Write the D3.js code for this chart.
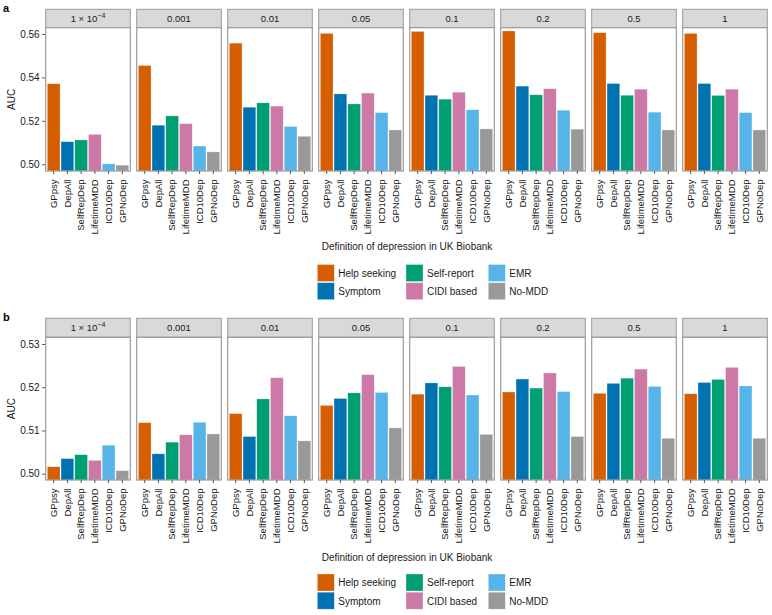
<!DOCTYPE html>
<html><head><meta charset="utf-8">
<script src="https://cdn.jsdelivr.net/npm/d3@7"></script>
<style>body{margin:0;background:#fff;} text{font-family:"Liberation Sans",Arial,Helvetica,sans-serif;}</style>
</head><body>
<svg id="chart" width="772" height="615"></svg>
<script>
// ---------- data ----------
const thresholds = ["1e-4","0.001","0.01","0.05","0.1","0.2","0.5","1"];
const definitions = ["GPpsy","DepAll","SelfRepDep","LifetimeMDD","ICD10Dep","GPNoDep"];
const groups = ["Help seeking","Symptom","Self-report","CIDI based","EMR","No-MDD"];
const groupColors = ["#D55E00","#0072B2","#009E73","#CC79A7","#56B4E9","#999999"];

// panel a: AUC per threshold (rows) x definition (cols)
const aucA = [
  [0.5371,0.5104,0.5112,0.5138,0.5002,0.4996],
  [0.5455,0.5180,0.5223,0.5187,0.5084,0.5057],
  [0.5558,0.5263,0.5283,0.5268,0.5174,0.5129],
  [0.5603,0.5324,0.5278,0.5328,0.5238,0.5158],
  [0.5612,0.5318,0.5300,0.5332,0.5251,0.5163],
  [0.5614,0.5360,0.5320,0.5348,0.5249,0.5162],
  [0.5606,0.5372,0.5318,0.5346,0.5240,0.5158],
  [0.5603,0.5372,0.5317,0.5346,0.5238,0.5158]
];
const ticksA = [0.50,0.52,0.54,0.56];
// panel b
const aucB = [
  [0.5016,0.5035,0.5044,0.5031,0.5066,0.5007],
  [0.5118,0.5046,0.5073,0.5090,0.5119,0.5092],
  [0.5139,0.5086,0.5173,0.5222,0.5134,0.5076],
  [0.5158,0.5174,0.5187,0.5229,0.5188,0.5106],
  [0.5184,0.5210,0.5201,0.5248,0.5182,0.5091],
  [0.5189,0.5219,0.5198,0.5233,0.5190,0.5086],
  [0.5186,0.5209,0.5221,0.5242,0.5202,0.5082],
  [0.5185,0.5211,0.5218,0.5246,0.5203,0.5082]
];
const ticksB = [0.50,0.51,0.52,0.53];
const xTitle = "Definition of depression in UK Biobank";
const yTitle = "AUC";

// ---------- layout ----------
const svg = d3.select("#chart");
const panelLeft0 = 45.7, panelStep = 91.0, panelW = 84.6;
const color = d3.scaleOrdinal().domain(definitions).range(groupColors);
const xBand = d3.scaleBand().domain(definitions).range([1.6, panelW-1.6]).paddingInner(0.07).paddingOuter(0);
const TXT = "#1a1a1a";

function stripLabel(g, t, cx, cy){
  const txt = g.append("text").attr("x",cx).attr("y",cy).attr("text-anchor","middle")
    .attr("font-size",9.5).attr("fill",TXT);
  if (t === "1e-4"){
    txt.append("tspan").text("1 × 10");
    txt.append("tspan").attr("font-size",7).attr("dy",-4).text("−4");
  } else txt.text(t);
}

function drawFigure(cfg){
  const {label, data, ticks, stripTop, plotTop, plotBottom, domain, titleY, legendTop} = cfg;
  const y = d3.scaleLinear().domain(domain).range([plotBottom, plotTop]);
  const root = svg.append("g");
  root.append("text").attr("x",3).attr("y",stripTop+3).attr("font-size",11).attr("font-weight","bold").attr("fill","#000").text(label);

  thresholds.forEach((th, i) => {
    const x0 = panelLeft0 + i*panelStep;
    const g = root.append("g").attr("transform",`translate(${x0},0)`);
    // strip
    g.append("rect").attr("x",0).attr("y",stripTop).attr("width",panelW).attr("height",plotTop-stripTop)
      .attr("fill","#d9d9d9").attr("stroke","#9a9a9a").attr("stroke-width",1);
    stripLabel(g, th, panelW/2, (stripTop+plotTop)/2 + 3.5);
    // panel bg
    g.append("rect").attr("x",0).attr("y",plotTop).attr("width",panelW).attr("height",plotBottom-plotTop)
      .attr("fill","#fff");
    // bars
    const rows = definitions.map((d,j)=>({def:d, v:data[i][j]}));
    g.selectAll("rect.bar").data(rows).join("rect").attr("class","bar")
      .attr("x",d=>xBand(d.def)).attr("width",xBand.bandwidth())
      .attr("y",d=>y(d.v)).attr("height",d=>Math.max(0,plotBottom - y(d.v)))
      .attr("fill",d=>color(d.def)).attr("stroke","#ffffff").attr("stroke-opacity",0.5).attr("stroke-width",0.6);
    // border
    g.append("rect").attr("x",0).attr("y",plotTop).attr("width",panelW).attr("height",plotBottom-plotTop)
      .attr("fill","none").attr("stroke","#9a9a9a").attr("stroke-width",1.2);
    // x axis
    const xa = g.append("g").attr("transform",`translate(0,${plotBottom})`)
      .call(d3.axisBottom(xBand).tickSize(3).tickPadding(3));
    xa.select(".domain").remove();
    xa.selectAll(".tick line").attr("stroke","#555");
    xa.selectAll(".tick text").attr("font-size",9.5).attr("fill",TXT)
      .attr("font-family",'"Liberation Sans",Arial,sans-serif')
      .attr("transform","rotate(-90)").attr("text-anchor","end")
      .attr("x",-8.5).attr("y",0).attr("dy","0.35em");
  });
  // y axis
  const ya = root.append("g").attr("transform",`translate(${panelLeft0-0.6},0)`)
    .call(d3.axisLeft(y).tickValues(ticks).tickFormat(d3.format(".2f")).tickSize(3).tickPadding(2.5));
  ya.select(".domain").remove();
  ya.selectAll(".tick line").attr("stroke","#555");
  ya.selectAll(".tick text").attr("font-size",10).attr("fill",TXT).attr("font-family",'"Liberation Sans",Arial,sans-serif');
  root.append("text").attr("transform",`translate(15,${(plotTop+plotBottom)/2}) rotate(-90)`)
    .attr("text-anchor","middle").attr("font-size",10).attr("fill",TXT).text(yTitle);
  // x title
  root.append("text").attr("x",407).attr("y",titleY).attr("text-anchor","middle")
    .attr("font-size",10).attr("fill",TXT).text(xTitle);
  // legend
  const colX = [317.3, 406, 488.3];
  groups.forEach((gname, k) => {
    const col = Math.floor(k/2), row = k%2;
    const lx = colX[col], ly = legendTop + row*18.2;
    root.append("rect").attr("x",lx).attr("y",ly).attr("width",17).attr("height",17)
      .attr("fill",groupColors[k]).attr("stroke","#fff").attr("stroke-opacity",0.5).attr("stroke-width",0.6);
    root.append("text").attr("x",lx+21).attr("y",ly+12.3).attr("font-size",10).attr("fill",TXT).text(gname);
  });
}

drawFigure({label:"a", data:aucA, ticks:ticksA, stripTop:9.3, plotTop:27.7, plotBottom:171,
  domain:[0.4969,0.5629], titleY:250, legendTop:264.5});
drawFigure({label:"b", data:aucB, ticks:ticksB, stripTop:318.3, plotTop:337.3, plotBottom:480,
  domain:[0.49854,0.53155], titleY:560.5, legendTop:574});
</script>
</body></html>
